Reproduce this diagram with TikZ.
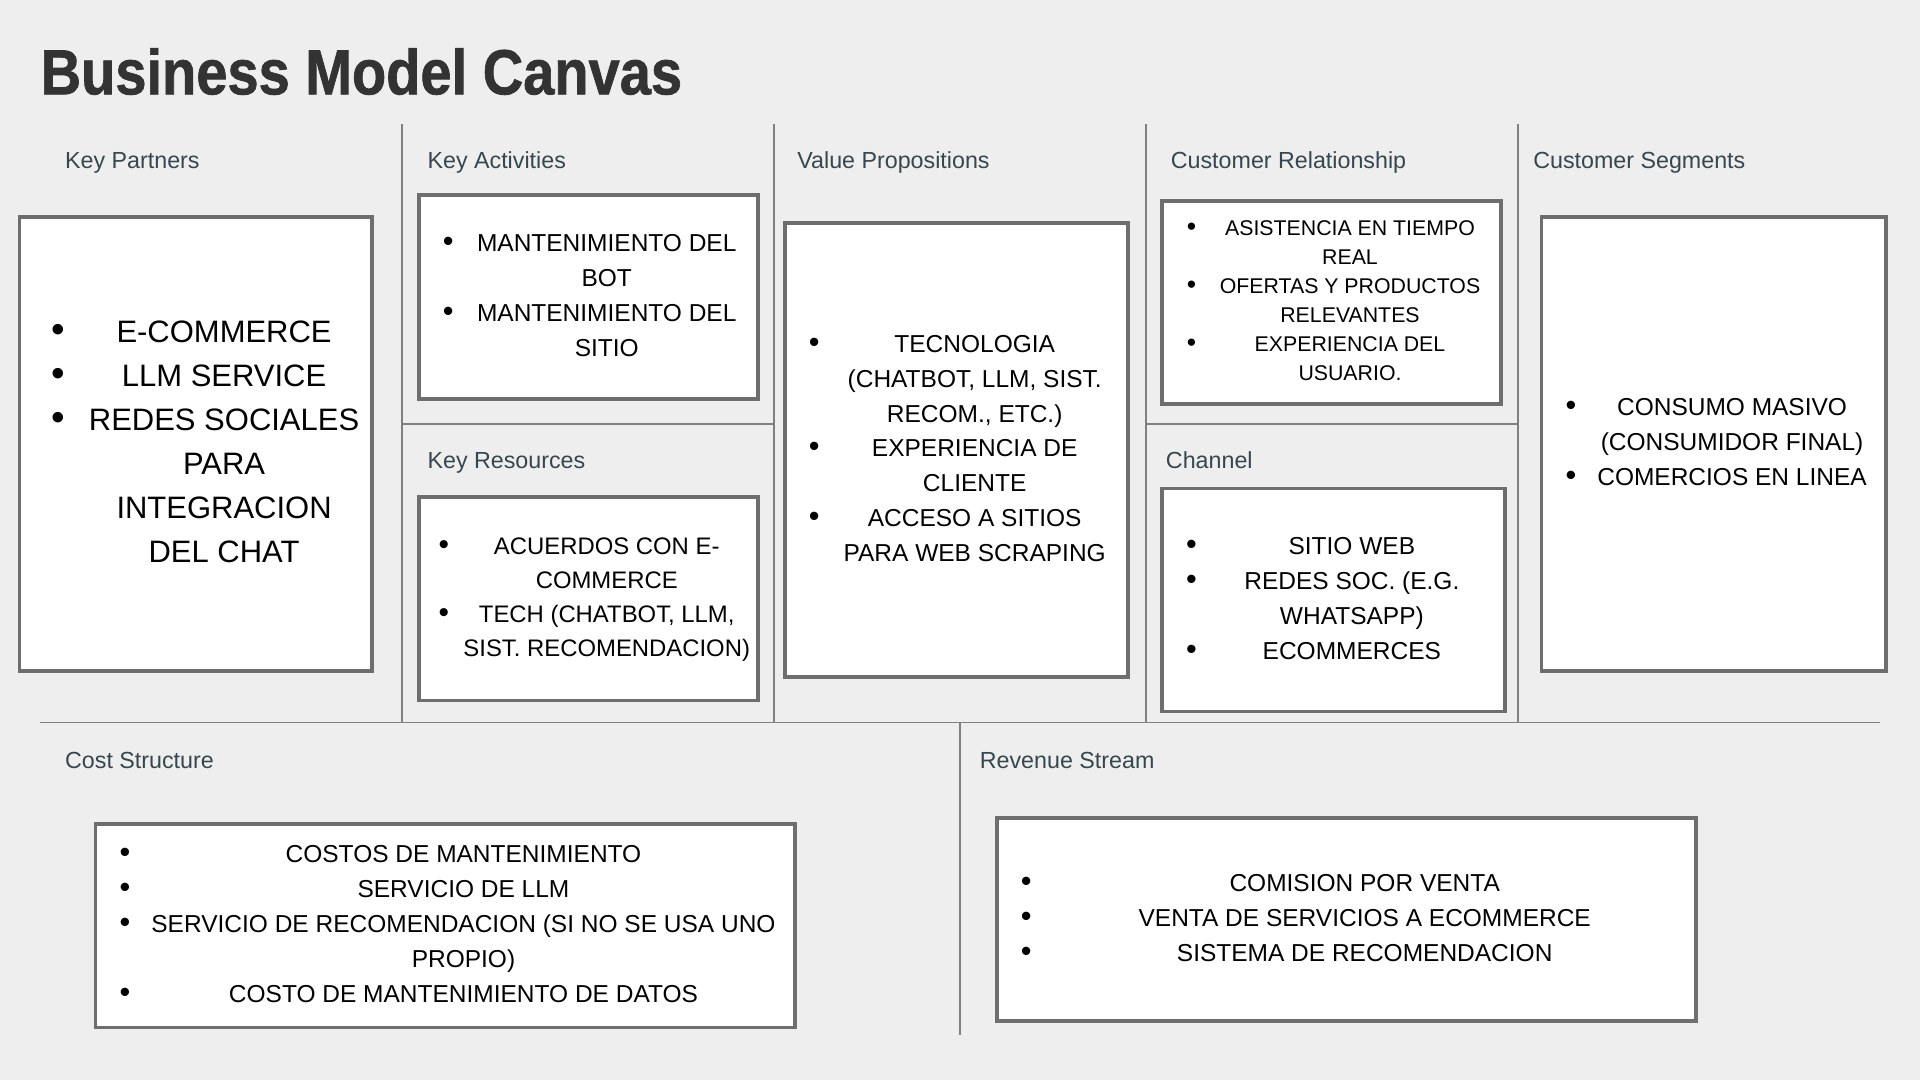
\documentclass[tikz,border=0pt]{standalone}
\usepackage{fontspec}
\usepackage{array}
\setmainfont{Liberation Sans}
\newfontfamily\bmctitlefont[FakeBold=1.2]{Liberation Sans Bold}

\definecolor{canvasbg}{HTML}{EEEEEE}
\definecolor{boxgray}{HTML}{6E6E6E}
\definecolor{linegray}{HTML}{808080}
\definecolor{headgray}{HTML}{37474F}
\definecolor{titlegray}{HTML}{333333}

% bullet column + centred text column
\newcommand{\bmclist}[2]{%
  \begin{tabular}{@{}>{\centering\arraybackslash}p{30pt}@{}>{\centering\arraybackslash}p{#1pt}@{}}#2\end{tabular}}
\newcommand{\bmcdot}{\scalebox{1.25}{\textbullet}}

\begin{document}
\begin{tikzpicture}[x=1pt, y=-1pt]

\tikzset{bmcbox/.style={draw=boxgray, line width=3pt, fill=white, inner sep=0pt, font=\fontsize{20}{28.5}\selectfont}}
\tikzset{bmchead/.style={anchor=base west, inner sep=0pt, text=headgray, font=\fontsize{19}{21}\selectfont}}
\tikzset{bmcline/.style={draw=linegray, line width=1.5pt}}

\fill[canvasbg] (0,0) rectangle (1568,882);
\useasboundingbox (0,0) rectangle (1568,882);

\node[anchor=base west, inner sep=0pt, text=titlegray, font=\fontsize{52}{60}\bmctitlefont] (title) at (33,77) {\scalebox{0.88}[1]{Business Model Canvas}};

% grid
\draw[bmcline] (328,101) -- (328,590);
\draw[bmcline] (632,101) -- (632,590);
\draw[bmcline] (936,101) -- (936,590);
\draw[bmcline] (1240,101) -- (1240,590);
\draw[bmcline] (328,346) -- (632,346);
\draw[bmcline] (936,346) -- (1240,346);
\draw[bmcline] (33,590) -- (1535,590);
\draw[bmcline] (784,590) -- (784,845);

% headers
\node[bmchead] (hkp) at (53,138) {Key Partners};
\node[bmchead] (hka) at (349,138) {Key Activities};
\node[bmchead] (hvp) at (651,138) {Value Propositions};
\node[bmchead] (hcr) at (956,138) {Customer Relationship};
\node[bmchead] (hcs) at (1252,138) {Customer Segments};
\node[bmchead] (hkr) at (349,383) {Key Resources};
\node[bmchead] (hch) at (952,383) {Channel};
\node[bmchead] (hco) at (53,628) {Cost Structure};
\node[bmchead] (hre) at (800,628) {Revenue Stream};

% boxes
\node[bmcbox, minimum width=288, minimum height=371, font=\fontsize{25.3}{36}\selectfont] (kp) at (160,362.5) {\hspace*{16pt}\bmclist{240}{%
  \bmcdot & E-COMMERCE \\
  \bmcdot & LLM SERVICE \\
  \bmcdot & REDES SOCIALES\par PARA\par INTEGRACION\par DEL CHAT}};

\node[bmcbox, minimum width=277, minimum height=167] (ka) at (480.5,242.5) {\bmclist{229}{%
  \bmcdot & MANTENIMIENTO DEL\par BOT \\
  \bmcdot & MANTENIMIENTO DEL\par SITIO}};

\node[bmcbox, minimum width=277, minimum height=166, font=\fontsize{19.5}{27.8}\selectfont] (kr) at (480.5,489) {\bmclist{236}{%
  \bmcdot & ACUERDOS CON E-\par COMMERCE \\
  \bmcdot & TECH (CHATBOT, LLM,\par SIST. RECOMENDACION)}};

\node[bmcbox, minimum width=280, minimum height=371] (vp) at (781,367.5) {\bmclist{232}{%
  \bmcdot & TECNOLOGIA\par (CHATBOT, LLM, SIST.\par RECOM., ETC.) \\
  \bmcdot & EXPERIENCIA DE\par CLIENTE \\
  \bmcdot & ACCESO A SITIOS\par PARA WEB SCRAPING}};

\node[bmcbox, minimum width=277, minimum height=166, font=\fontsize{17.4}{23.7}\selectfont] (cr) at (1087.5,247) {\bmclist{229}{%
  \bmcdot & ASISTENCIA EN TIEMPO\par REAL \\
  \bmcdot & OFERTAS Y PRODUCTOS\par RELEVANTES \\
  \bmcdot & EXPERIENCIA DEL\par USUARIO.}};

\node[bmcbox, minimum width=280, minimum height=182] (ch) at (1089,490) {\bmclist{232}{%
  \bmcdot & SITIO WEB \\
  \bmcdot & REDES SOC. (E.G.\par WHATSAPP) \\
  \bmcdot & ECOMMERCES}};

\node[bmcbox, minimum width=281, minimum height=371] (cs) at (1399.5,362.5) {\bmclist{233}{%
  \bmcdot & CONSUMO MASIVO\par (CONSUMIDOR FINAL) \\
  \bmcdot & COMERCIOS EN LINEA}};

\node[bmcbox, minimum width=571, minimum height=166] (co) at (363.5,756) {\bmclist{523}{%
  \bmcdot & COSTOS DE MANTENIMIENTO \\
  \bmcdot & SERVICIO DE LLM \\
  \bmcdot & SERVICIO DE RECOMENDACION (SI NO SE USA UNO\par PROPIO) \\
  \bmcdot & COSTO DE MANTENIMIENTO DE DATOS}};

\node[bmcbox, minimum width=571, minimum height=166] (re) at (1099.5,751) {\bmclist{523}{%
  \bmcdot & COMISION POR VENTA \\
  \bmcdot & VENTA DE SERVICIOS A ECOMMERCE \\
  \bmcdot & SISTEMA DE RECOMENDACION}};

\end{tikzpicture}
\end{document}
